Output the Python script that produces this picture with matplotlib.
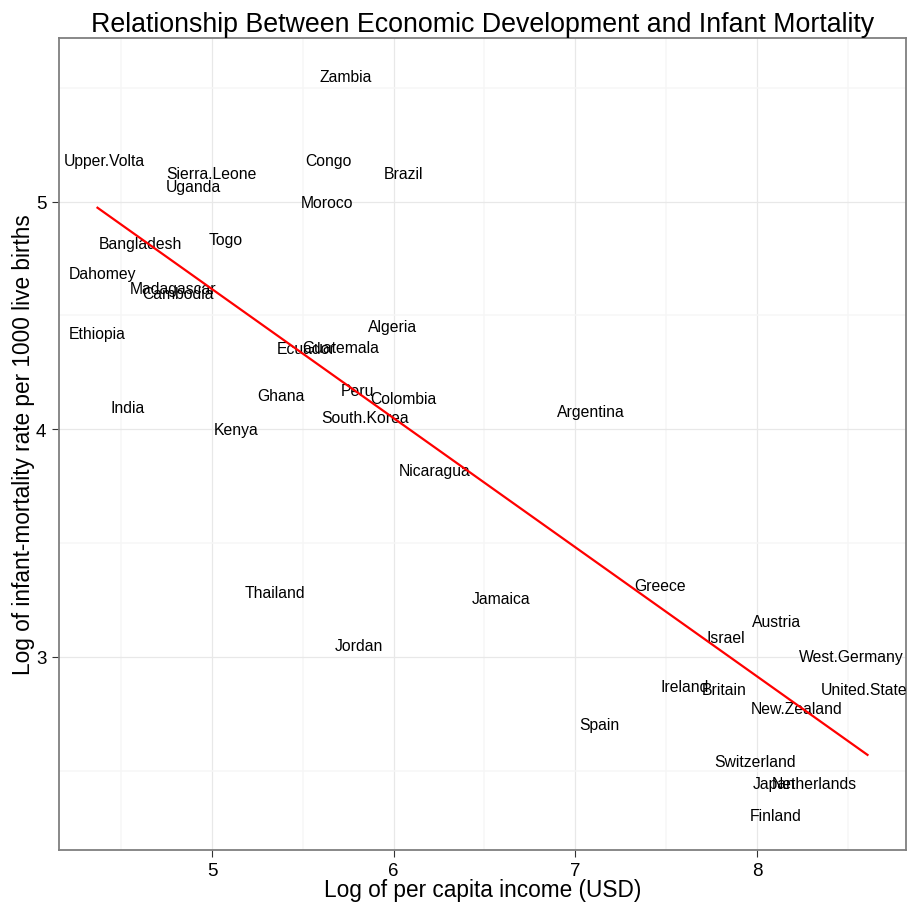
import numpy as np
import matplotlib
matplotlib.use("Agg")
import matplotlib.pyplot as plt
from matplotlib.ticker import MultipleLocator

plt.rcParams['font.family'] = ['Liberation Sans', 'DejaVu Sans']

countries = ["Zambia", "Upper.Volta", "Congo", "Sierra.Leone", "Brazil", "Uganda",
             "Moroco", "Bangladesh", "Togo", "Dahomey", "Madagascar", "Cambodia",
             "Ethiopia", "Algeria", "Ecuador", "Guatemala", "Ghana", "Peru",
             "Colombia", "India", "South.Korea", "Argentina", "Kenya", "Nicaragua",
             "Thailand", "Jamaica", "Greece", "Jordan", "Austria", "Israel",
             "West.Germany", "Ireland", "Britain", "United.States", "New.Zealand",
             "Spain", "Switzerland", "Japan", "Netherlands", "Finland"]

log_income = [5.737, 4.407, 5.638, 4.997, 6.052, 4.898,
              5.631, 4.605, 5.075, 4.394, 4.787, 4.812,
              4.369, 5.991, 5.518, 5.710, 5.380, 5.800,
              6.054, 4.533, 5.841, 7.083, 5.130, 6.225,
              5.345, 6.589, 7.468, 5.807, 8.110, 7.828,
              8.518, 7.600, 7.822, 8.609, 8.216,
              7.133, 7.988, 8.096, 8.314, 8.101]

log_infant = [5.556, 5.190, 5.190, 5.134, 5.134, 5.073,
              5.003, 4.824, 4.844, 4.695, 4.626, 4.604,
              4.431, 4.458, 4.363, 4.370, 4.156, 4.179,
              4.143, 4.103, 4.062, 4.088, 4.007, 3.826,
              3.292, 3.266, 3.322, 3.058, 3.165, 3.094,
              3.010, 2.880, 2.864, 2.868, 2.783,
              2.714, 2.550, 2.455, 2.451, 2.314]

x = np.array(log_income)
y = np.array(log_infant)

fig = plt.figure(figsize=(9.09, 9.04), dpi=100)
ax = fig.add_axes([59 / 909, 1 - 851 / 904, 847 / 909, 812 / 904])

# labels in place of points (nudged so the glyphs sit centred like grid text)
for name, xi, yi in zip(countries, x, y):
    ax.annotate(name, (xi, yi), xytext=(0, -1.5), textcoords='offset points',
                ha='center', va='center', fontsize=11.3, color='black',
                annotation_clip=True, clip_on=True, zorder=3)

# least squares line over the data range
slope, intercept = np.polyfit(x, y, 1)
xs = np.array([x.min(), x.max()])
ax.plot(xs, intercept + slope * xs, color='red', lw=1.6, zorder=4)

# 5% padding on both axes
xr = x.max() - x.min()
yr = y.max() - y.min()
ax.set_xlim(x.min() - 0.05 * xr, x.max() + 0.05 * xr)
ax.set_ylim(y.min() - 0.05 * yr, y.max() + 0.05 * yr)

ax.xaxis.set_major_locator(MultipleLocator(1))
ax.xaxis.set_minor_locator(MultipleLocator(0.5))
ax.yaxis.set_major_locator(MultipleLocator(1))
ax.yaxis.set_minor_locator(MultipleLocator(0.5))

ax.grid(which='major', color='#E8E8E8', lw=0.9, zorder=0)
ax.grid(which='minor', color='#F6F6F6', lw=1.1, zorder=0)
ax.set_axisbelow(True)

for s in ax.spines.values():
    s.set_color('#7F7F7F')
    s.set_linewidth(1.3)

ax.tick_params(which='major', length=5, width=0.8, color='#333333',
               labelsize=13.5, labelcolor='black', pad=4)
ax.tick_params(which='minor', length=0)

ax.set_title('Relationship Between Economic Development and Infant Mortality',
             fontsize=19.3, pad=5)
ax.set_xlabel('Log of per capita income (USD)', fontsize=16.3, labelpad=-1)
ax.set_ylabel('Log of infant-mortality rate per 1000 live births', fontsize=16.3,
              labelpad=1)

fig.savefig('out.png', dpi=100)
